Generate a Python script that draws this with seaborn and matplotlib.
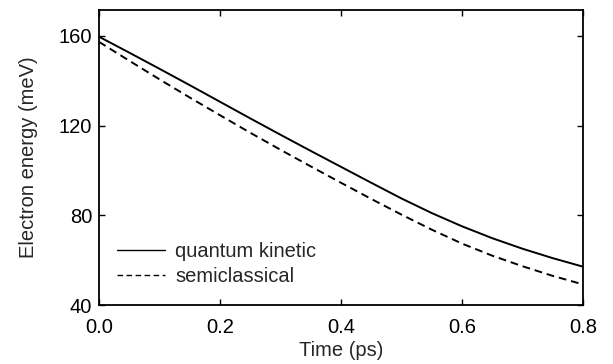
import numpy as np
import pandas as pd
import matplotlib
matplotlib.use("Agg")
import matplotlib.pyplot as plt
import seaborn as sns

time_ps = [0.0, 0.05, 0.1, 0.15, 0.2, 0.25, 0.3, 0.35, 0.4, 0.45, 0.5, 0.55, 0.6, 0.65, 0.7, 0.75, 0.8]
quantum_kinetic = [159.6, 152.5, 145.3, 138.0, 130.6, 123.2, 115.9, 108.7, 101.6, 94.5, 87.5, 81.0, 75.1, 69.8, 65.1, 60.9, 57.1]
semiclassical = [157.3, 148.9, 140.6, 132.5, 124.6, 116.8, 109.2, 101.8, 94.5, 87.3, 80.3, 73.6, 67.4, 62.0, 57.3, 53.0, 49.2]
series_names = ["quantum kinetic", "semiclassical"]
xticks = [0.0, 0.2, 0.4, 0.6, 0.8]
yticks = [40, 80, 120, 160]

df = pd.concat([
    pd.DataFrame({"t": time_ps, "E": quantum_kinetic, "series": series_names[0]}),
    pd.DataFrame({"t": time_ps, "E": semiclassical, "series": series_names[1]}),
])

sns.set_style("ticks")
plt.rcParams["font.family"] = ["Liberation Sans", "DejaVu Sans"]

FS = 14.5
fig = plt.figure(figsize=(6.13, 3.64), dpi=100)
ax = fig.add_axes([0.1615, 0.162, 0.7895, 0.8105])

sns.lineplot(data=df, x="t", y="E", style="series", style_order=series_names,
             dashes={series_names[0]: "", series_names[1]: (4, 2.5)},
             color="black", linewidth=1.4, ax=ax)

ax.set_xlim(0, 0.8)
ax.set_ylim(40, 171.5)
ax.set_xticks(xticks)
ax.set_xticklabels([f"{v:.1f}" for v in xticks])
ax.set_yticks(yticks)
ax.set_yticklabels([str(v) for v in yticks])
ax.tick_params(direction="in", length=4, width=1, top=True, right=True,
               labelsize=FS, colors="black")
ax.tick_params(axis="x", pad=9)
ax.tick_params(axis="y", pad=5)
for s in ax.spines.values():
    s.set_linewidth(1.3)
    s.set_color("black")
ax.set_xlabel("Time (ps)", fontsize=FS, labelpad=3)
ax.set_ylabel("Electron energy (meV)", fontsize=FS, labelpad=15)

leg = ax.legend(loc="lower left", bbox_to_anchor=(0.037, 0.065), frameon=False,
                fontsize=FS, handlelength=2.4, handletextpad=0.5, labelspacing=0.3,
                borderpad=0, borderaxespad=0)
for h in leg.get_lines():
    h.set_linewidth(1.0)

fig.savefig("out.png", dpi=100)
